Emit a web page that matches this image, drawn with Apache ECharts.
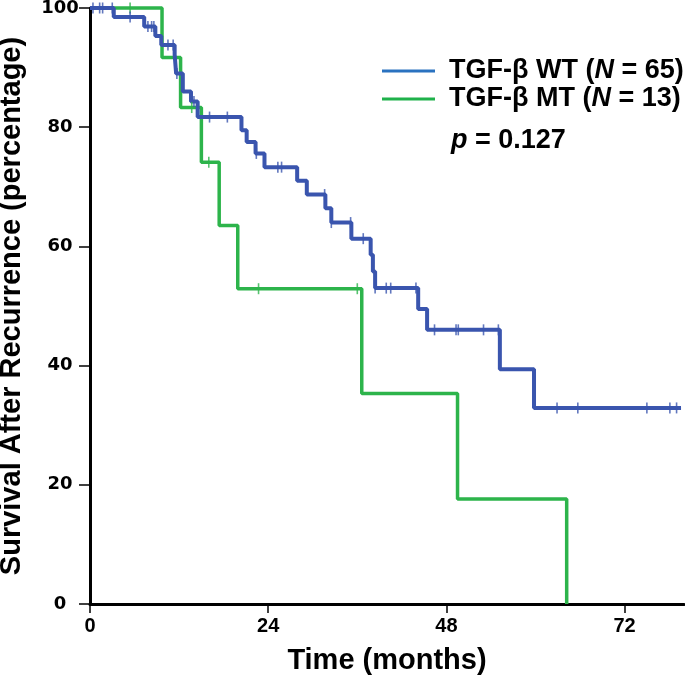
<!DOCTYPE html>
<html>
<head>
<meta charset="utf-8">
<script src="https://cdn.jsdelivr.net/npm/echarts@6/dist/echarts.min.js"></script>
<style>
html,body{margin:0;padding:0;background:#fff;}
#chart{width:685px;height:679px;}
</style>
</head>
<body>
<div id="chart"></div>
<script>
// ---- data ----
var wtTime = [0, 3.2, 7.3, 8.8, 9.6, 11.4, 11.6, 12.5, 13.6, 14.5, 20.4, 21.1, 22.3, 23.5, 27.9, 29.2, 31.7, 32.5, 35.2, 37.8, 38.1, 38.4, 44.2, 45.4, 55.2, 59.8, 79.6];
var wtSurv = [100, 98.5, 96.9, 95.3, 93.8, 92.2, 89.0, 86.0, 84.3, 81.7, 79.5, 77.5, 75.6, 73.3, 71.0, 68.7, 66.4, 64.0, 61.3, 58.6, 55.8, 53.0, 49.5, 46.0, 39.4, 32.9, 32.9];
var wtCensor = [0.4, 1.3, 1.7, 3.0, 5.4, 7.8, 8.3, 8.6, 10.5, 11.2, 11.7, 14.0, 16.1, 18.5, 22.4, 25.3, 25.8, 31.6, 32.5, 35.1, 36.8, 38.4, 39.9, 40.5, 43.9, 46.4, 49.3, 49.6, 53.0, 55.0, 62.9, 65.7, 75.0, 78.1, 79.0];

var mtTime = [0, 9.7, 12.2, 15.0, 17.4, 19.9, 36.6, 49.5, 64.2];
var mtSurv = [100, 91.7, 83.3, 74.1, 63.5, 52.9, 35.3, 17.6, 0];
var mtCensor = [5.4, 13.7, 16.0, 22.7, 36.0];

var xTicks = [0, 24, 48, 72];
var yTicks = [0, 20, 40, 60, 80, 100];

var seriesNames = ['TGF-β WT', 'TGF-β MT'];
var seriesN = [65, 13];
var pText = '0.127';

// ---- helpers ----
function pairs(t, s) { return t.map(function (v, i) { return [v, s[i]]; }); }
function stepAt(t, s, x) {
  var v = s[0];
  for (var i = 0; i < t.length; i++) { if (t[i] <= x) v = s[i]; }
  return v;
}
function censorPts(c, t, s) { return c.map(function (x) { return [x, stepAt(t, s, x)]; }); }

var blue = '#3a55ae', green = '#2db44b';
var legBlue = '#2a72c0', legGreen = '#1fb14b';
var font = '"Liberation Sans", Arial, sans-serif';
var legFont = 27;

var chart = echarts.init(document.getElementById('chart'));
chart.setOption({
  animation: false,
  backgroundColor: '#ffffff',
  grid: { left: 90, right: 1, top: 8, bottom: 75, containLabel: false, outerBoundsMode: 'none' },
  xAxis: {
    type: 'value', min: 0, max: 80, interval: 24,
    name: 'Time (months)', nameLocation: 'middle', nameGap: 42,
    nameTextStyle: { fontFamily: font, fontWeight: 'bold', fontSize: 29, color: '#000' },
    axisLine: { lineStyle: { color: '#000', width: 3 } },
    axisTick: { show: true, length: 9, lineStyle: { color: '#000', width: 1.5 }, customValues: xTicks },
    axisLabel: { customValues: xTicks, fontFamily: font, fontWeight: 'bold', fontSize: 20, color: '#000', margin: 12 },
    splitLine: { show: false }
  },
  yAxis: {
    type: 'value', min: 0, max: 100, interval: 20,
    name: 'Survival After Recurrence (percentage)', nameLocation: 'middle', nameGap: 64,
    nameTextStyle: { fontFamily: font, fontWeight: 'bold', fontSize: 29, color: '#000' },
    axisLine: { lineStyle: { color: '#000', width: 3 } },
    axisTick: { show: true, length: 11, lineStyle: { color: '#000', width: 1.5 } },
    axisLabel: { fontFamily: '"DejaVu Sans", sans-serif', fontWeight: 'bold', fontSize: 18, color: '#000', margin: 30, align: 'center' },
    splitLine: { show: false }
  },
  series: [
    { name: seriesNames[1], type: 'line', step: 'end', data: pairs(mtTime, mtSurv), showSymbol: false, clip: false,
      lineStyle: { color: green, width: 3.5 }, z: 3 },
    { name: seriesNames[0], type: 'line', step: 'end', data: pairs(wtTime, wtSurv), showSymbol: false, clip: false,
      lineStyle: { color: blue, width: 4 }, z: 4 },
    { type: 'scatter', data: censorPts(mtCensor, mtTime, mtSurv), symbol: 'rect', symbolSize: [1.6, 11],
      itemStyle: { color: green }, z: 5, clip: false },
    { type: 'scatter', data: censorPts(wtCensor, wtTime, wtSurv), symbol: 'rect', symbolSize: [1.6, 11],
      itemStyle: { color: blue }, z: 6, clip: false }
  ],
  graphic: [
    { type: 'line', shape: { x1: 382, y1: 71, x2: 435, y2: 71 }, style: { stroke: legBlue, lineWidth: 3 } },
    { type: 'line', shape: { x1: 382, y1: 99, x2: 435, y2: 99 }, style: { stroke: legGreen, lineWidth: 3 } },
    { type: 'text', x: 449, y: 71, style: {
        text: seriesNames[0] + ' ({i|N} = ' + seriesN[0] + ')', font: 'bold ' + legFont + 'px ' + font, fill: '#000', verticalAlign: 'middle',
        rich: { i: { fontStyle: 'italic', fontWeight: 'bold', fontSize: legFont, fontFamily: font, fill: '#000' } } } },
    { type: 'text', x: 449, y: 99, style: {
        text: seriesNames[1] + ' ({i|N} = ' + seriesN[1] + ')', font: 'bold ' + legFont + 'px ' + font, fill: '#000', verticalAlign: 'middle',
        rich: { i: { fontStyle: 'italic', fontWeight: 'bold', fontSize: legFont, fontFamily: font, fill: '#000' } } } },
    { type: 'text', x: 451, y: 141, style: {
        text: '{i|p} = ' + pText, font: 'bold ' + legFont + 'px ' + font, fill: '#000', verticalAlign: 'middle',
        rich: { i: { fontStyle: 'italic', fontWeight: 'bold', fontSize: legFont, fontFamily: font, fill: '#000' } } } }
  ]
});
</script>
</body>
</html>
